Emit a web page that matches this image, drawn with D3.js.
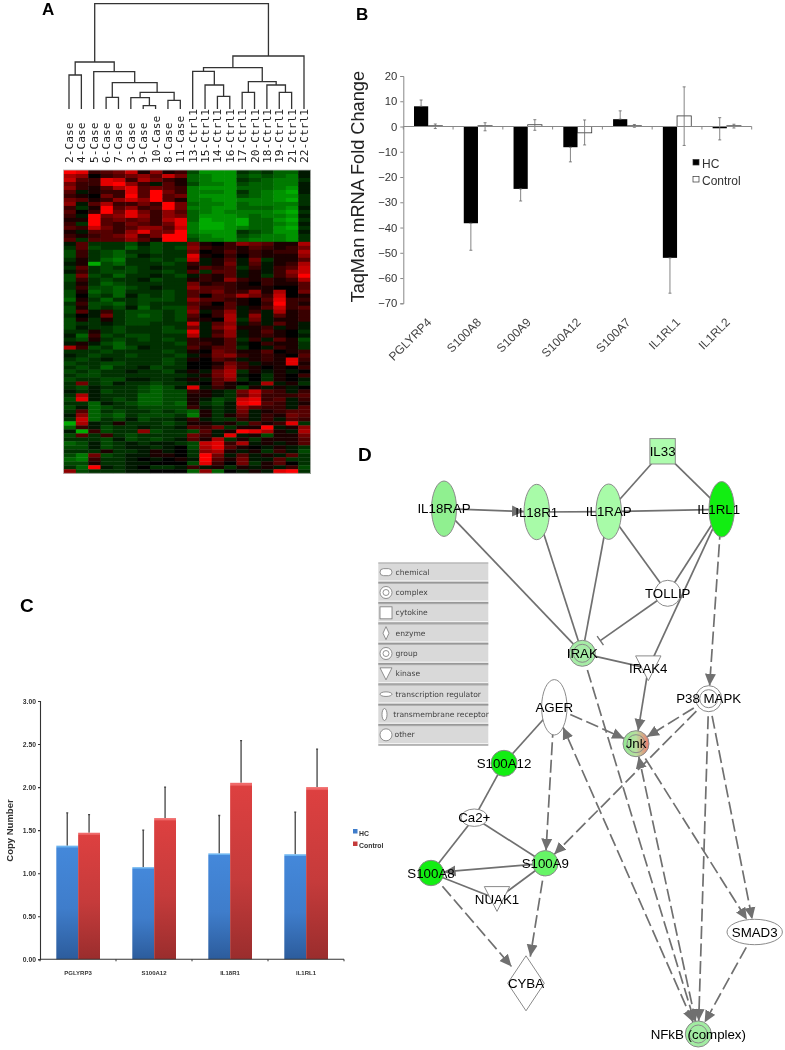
<!DOCTYPE html>
<html><head><meta charset="utf-8">
<script src="https://cdn.jsdelivr.net/npm/d3@7"></script>
<style>
html,body{margin:0;padding:0;background:#fff}
svg{display:block;filter:blur(.35px)}
text{font-family:"Liberation Sans",Arial,sans-serif}
</style></head><body>
<svg id="c" width="785" height="1050"></svg>
<script>
// ---------- Panel A data ----------
const sampleLabels = ["2-Case","4-Case","5-Case","6-Case","7-Case","3-Case","9-Case","10-Case","8-Case","11-Case",
 "13-Ctrl1","15-Ctrl1","14-Ctrl1","16-Ctrl1","17-Ctrl1","20-Ctrl1","18-Ctrl1","19-Ctrl1","21-Ctrl1","22-Ctrl1"];
// nested merges: [height, childA, childB]; leaves are sample indexes
const dendrogramMerges =
 [105.3,
  [47,[34,0,1],[37.3,2,[26.3,[11.7,3,4],[16.7,[11.3,5,[3.3,6,7]],[8.7,8,9]]]]],
  [53,[41.3,[37.7,10,[24,11,[12.7,12,13]]],[27.3,[16.7,14,15],[24,16,[16.7,17,18]]]],19]];
// heat cells: 0 black, 1-9 red strength, a-i green strength
const heatRows = [
"9823471512cfffbcbdda","6502345374deffcdcdea","7328726421deffbcdeeb","4228952a31ceefcddeea","5213683432efffdddefa",
"3a12283942eeefbdefga","2104293934efffcdeffb","4312575931eeffeeefgb","5a36224294deefdeeeeb","2b19352394eeffdddefa",
"3029484253defeeeefgb","2a94585254dfffedeefa","1193434268dgffgddfgb","2b93243248eggfgddefa","3274235537eggfeddfgb",
"1a33258449efffbcdffa","2123462499deffcdeefb","3b33353199ceefdeeefb",
"a3bbbcacbb4102543116","b3cbbdbcbc5212132124","c2bcdbbcbb4013121226","c2bcdcabbb8102021115","b1bdebbcbc7a13a4b113",
"a1gcdbbbcb2a14a3a126","b3bcbcbabb1323b2a237","a2bcccbbcb3b33a1a257","c4cbdbbabca213a1b249","c2bcbbacbb1215212126",
"b1bdcbbbbb4122102113","b2ccdcbabb5332111003","c1dcdbbbcb3342251604","c0cbdacbcb3033642701","d1bdbbcccb5332103822",
"b2ccdbcbbb3203102921","c1cbcadbcc4113a13723","c3a2bcccbc5a25a2a612","b0a4bcdcbc3026a5a312","c1b1bcccbc2106b4a112",
"cbbabccbbb7a35a2a31a","cabbcbbbcb4a46112a1a","bb1bcbbbcc8a25a1310b","ad2cbccbbb6a35a1210a","bc1bcbcbcb2113b2a31c",
"a1acdbbbbc2213a0211b","62cbdcabbb3133b0a21b","bbbcbbbbcb1043113012","abcbbcbbbca145212103","bcbabbbbcb1032a12182",
"cbbccbbbcb00142a1181","bcbdbbacbb0025210102","cbcbbabbca1a46b1a1a0","bccbbbbbbba146a0b102","cbbccaabba1a35b0b10a",
"b4bcabbcbba0310a6a1b","bcabbbcdca8a21c1a1a0","abacbbcdcc21ab4732a2","b6abbbddcc11ab362223","c8abcbddcc1acb7823a2",
"bbdabcddcd1bca8932a1","cadcbbcccc2aba5322a3","b3dbcbbcbcd1ba4a1233","a5dcdbcccbe1b13a2143","b7dbcacbba2abb2a2a32",
"g6ab1bbbcb11a1b3128b","d2acbbabba324b119a15","ag2cbb5cbbc3a19861a6","c3b2bcbbbb42a8a1c114","bbbcacbcba316b1b1113",
"dcacbabaabc7826a1a13","ccacbaaba0c68310a1ab","bbb1bba1a0b561a1b2ac","ce4cbaa110b94a3a1a3b","de2bba0a01a9314aa3bb",
"cc1bbaa000c8204b130b","bd9aba0bba2a1b1a1a2c","5cbbbaa000d5d0a1a89b"];

// ---------- Panel B data ----------
const taqGenes = ["PGLYRP4","S100A8","S100A9","S100A12","S100A7","IL1RL1","IL1RL2"];
const taqHC = [8,-38.3,-24.7,-8.2,2.9,-52,-0.7];
const taqControl = [0.3,0.3,0.7,-2.5,0.3,4.2,0.3];
const taqHCLow = [8,-49,-29.5,-14,2.9,-66,-5.3];
const taqHCHigh = [10.5,-38.3,-24.7,-8.2,6.2,-52,3.5];
const taqCtlLow = [-0.8,-1.7,-1.5,-7.3,-0.3,-7.5,-0.6];
const taqCtlHigh = [1,1.5,2.7,2.6,0.8,15.7,0.9];
const taqTicks = [20,10,0,-10,-20,-30,-40,-50,-60,-70];

// ---------- Panel C data ----------
const copyGenes = ["PGLYRP3","S100A12","IL18R1","IL1RL1"];
const copyHC = [1.32,1.07,1.23,1.22];
const copyControl = [1.47,1.64,2.05,2.00];
const copyHCTop = [1.70,1.50,1.67,1.71];
const copyControlTop = [1.68,2.00,2.54,2.44];
const copyTicks = [0,0.5,1,1.5,2,2.5,3];

// ---------- Panel D data ----------
const legendKinds = ["chemical","complex","cytokine","enzyme","group","kinase","transcription regulator","transmembrane receptor","other"];
const nodeNames = ["IL33","IL18RAP","IL18R1","IL1RAP","IL1RL1","TOLLIP","IRAK","IRAK4","P38 MAPK","AGER","Jnk","S100A12","Ca2+","S100A9","S100A8","NUAK1","CYBA","SMAD3","NFkB (complex)"];
const solidEdges = [["IL33","IL1RAP"],["IL33","IL1RL1"],["IL18R1","IL1RAP"],["IL1RAP","IL1RL1"],["IL18RAP","IRAK"],["IL18R1","IRAK"],["IL1RAP","IRAK"],
 ["IL1RAP","TOLLIP"],["IL1RL1","TOLLIP"],["IL1RL1","IRAK4"],["AGER","S100A12"],["S100A12","Ca2+"],["Ca2+","S100A8"],["Ca2+","S100A9"],["S100A8","NUAK1"],["S100A9","NUAK1"],["IRAK","IRAK4"]];
const solidArrows = [["IL18RAP","IL18R1"],["IRAK4","Jnk"],["S100A9","S100A8"]];
const inhibitEdges = [["TOLLIP","IRAK"]];
const dashedArrows = [["IL1RL1","P38 MAPK"],["P38 MAPK","Jnk"],["P38 MAPK","S100A9"],["P38 MAPK","NFkB (complex)"],["P38 MAPK","SMAD3"],
 ["AGER","Jnk"],["AGER","S100A9"],["IRAK","NFkB (complex)"],["Jnk","SMAD3"],["S100A9","CYBA"],["S100A8","CYBA"],["SMAD3","NFkB (complex)"]];
const dashedBoth = [["NFkB (complex)","AGER"],["NFkB (complex)","Jnk"]];

// ---------- layout (separate from the data) ----------
const svg = d3.select("#c");
const defs = svg.append("defs");
const panelLetters = [["A",42,15,17],["B",356,20,17],["C",20,612,19],["D",358,461,19]];
svg.selectAll("text.letter").data(panelLetters).join("text").attr("class","letter")
 .attr("x",d=>d[1]).attr("y",d=>d[2]).attr("font-size",d=>d[3]).attr("font-weight","bold").text(d=>d[0]);

// ===== Panel A =====
{
 const A = svg.append("g");
 const leafX = d3.scalePoint().domain(d3.range(20)).range([69,304]);
 const hY = d3.scaleLinear().domain([0,105.3]).range([109,3.7]);
 const cellX = d3.scaleBand().domain(d3.range(20)).range([63.5,310.5]);
 const cellY = d3.scaleBand().domain(d3.range(heatRows.length)).range([170,473.3]);
 const heat = d3.scaleLinear().domain([-9,0,9]).range(["#00dc00","#000000","#ff0000"]);
 const decode = ch => /\d/.test(ch) ? +ch : -(ch.charCodeAt(0)-96);
 // dendrogram
 const segs=[];
 (function walk(n){
   if(typeof n==="number") return {x:leafX(n),y:hY(0)};
   const a=walk(n[1]), b=walk(n[2]), y=hY(n[0]);
   segs.push(`M${a.x},${a.y}V${y}H${b.x}V${b.y}`);
   return {x:(a.x+b.x)/2,y};
 })(dendrogramMerges);
 A.append("g").selectAll("path").data(segs).join("path").attr("d",d=>d).attr("fill","none").attr("stroke","#333").attr("stroke-width",1.3);
 // labels
 A.append("g").selectAll("text").data(sampleLabels).join("text")
  .attr("transform",(d,i)=>`translate(${leafX(i)+4},163) rotate(-90)`)
  .attr("font-family","'DejaVu Sans Mono',monospace").style("font-family","'DejaVu Sans Mono',monospace")
  .attr("font-size",11.2).attr("fill","#222").text(d=>d);
 // heatmap
 const cells = heatRows.flatMap((r,ri)=>Array.from(r,(ch,ci)=>({ri,ci,v:decode(ch)})));
 A.append("g").selectAll("rect").data(cells).join("rect")
  .attr("x",d=>cellX(d.ci)).attr("y",d=>cellY(d.ri)).attr("width",cellX.bandwidth()+.4).attr("height",cellY.bandwidth()+.4)
  .attr("fill",d=>heat(d.v));
 A.append("rect").attr("x",63.5).attr("y",170).attr("width",247).attr("height",303.3).attr("fill","none").attr("stroke","#bbb").attr("stroke-width",.8);
}

// ===== Panel B =====
{
 const B = svg.append("g");
 const y = d3.scaleLinear().domain([-70,20]).range([303.3,76]);
 const x0 = d3.scaleBand().domain(taqGenes).range([403.3,751.7]);
 const x1 = d3.scaleBand().domain([0,1]).range([10.7,39.1]);
 const rows = taqGenes.map((g,i)=>({g,hc:taqHC[i],ct:taqControl[i],hl:taqHCLow[i],hh:taqHCHigh[i],cl:taqCtlLow[i],ch:taqCtlHigh[i]}));
 const barY=v=>Math.min(y(v),y(0)), barH=v=>Math.max(.8,Math.abs(y(v)-y(0)));
 const gr = B.selectAll("g.grp").data(rows).join("g").attr("transform",d=>`translate(${x0(d.g)},0)`);
 gr.append("rect").attr("x",x1(0)).attr("y",d=>barY(d.hc)).attr("width",x1.bandwidth()).attr("height",d=>barH(d.hc)).attr("fill","#000");
 gr.append("rect").attr("x",x1(1)).attr("y",d=>barY(d.ct)).attr("width",x1.bandwidth()).attr("height",d=>barH(d.ct)).attr("fill","#fff").attr("stroke","#333").attr("stroke-width",.8);
 const whisker=(sel,cx,lo,hi)=>{
  sel.append("path").attr("d",d=>`M${cx},${y(lo(d))}V${y(hi(d))}M${cx-1.5},${y(lo(d))}h3M${cx-1.5},${y(hi(d))}h3`).attr("stroke","#666").attr("stroke-width",.8).attr("fill","none");
 };
 whisker(gr,x1(0)+x1.bandwidth()/2,d=>d.hl,d=>d.hh);
 whisker(gr,x1(1)+x1.bandwidth()/2,d=>d.cl,d=>d.ch);
 // axes
 const ax = B.append("g").attr("transform","translate(403.3,0)").call(d3.axisLeft(y).tickValues(taqTicks).tickSize(3).tickPadding(3));
 ax.selectAll("path,line").attr("stroke","#888");
 ax.selectAll("text").attr("font-size",11.3).attr("fill","#333").style("font-family",'"Liberation Sans",Arial,sans-serif');
 const bounds=d3.range(8).map(i=>x0.range()[0]+i*x0.step());
 B.append("line").attr("x1",403.3).attr("x2",751.7).attr("y1",y(0)).attr("y2",y(0)).attr("stroke","#888").attr("stroke-width",1);
 B.selectAll("line.t").data(bounds).join("line").attr("class","t").attr("x1",d=>d).attr("x2",d=>d).attr("y1",y(0)).attr("y2",y(0)+3).attr("stroke","#888");
 B.selectAll("text.gene").data(taqGenes).join("text").attr("class","gene")
  .attr("transform",d=>`translate(${x0(d)+x0.bandwidth()/2+4},323) rotate(-45)`)
  .attr("text-anchor","end").attr("font-size",12).attr("fill","#444").text(d=>d);
 B.append("text").attr("transform","translate(363.5,186.7) rotate(-90)").attr("text-anchor","middle").attr("font-size",18.2).attr("fill","#222").text("TaqMan mRNA Fold Change");
 const lg=[["HC","#000",159.5,168],["Control","#fff",176.5,185]];
 B.selectAll("rect.lg").data(lg).join("rect").attr("class","lg").attr("x",693).attr("y",d=>d[2]).attr("width",6).attr("height",5.5).attr("fill",d=>d[1]).attr("stroke","#333").attr("stroke-width",.7);
 B.selectAll("text.lg").data(lg).join("text").attr("class","lg").attr("x",702).attr("y",d=>d[3]).attr("font-size",12).attr("fill","#333").text(d=>d[0]);
}

// ===== Panel C =====
{
 const C = svg.append("g");
 const y = d3.scaleLinear().domain([0,3]).range([959.3,701]);
 const x0 = d3.scaleBand().domain(copyGenes).range([40,344]);
 const x1 = d3.scaleBand().domain([0,1]).range([16.3,60]);
 const mk=(id,stops)=>{const g=defs.append("linearGradient").attr("id",id).attr("x1",0).attr("x2",0).attr("y1",0).attr("y2",1);
  stops.forEach(s=>g.append("stop").attr("offset",s[0]).attr("stop-color",s[1]));};
 mk("blue",[[0,"#6cb4f0"],[.012,"#6cb4f0"],[.02,"#4488da"],[.55,"#3f7dcb"],[1,"#2c5c9c"]]);
 mk("red",[[0,"#f06a6a"],[.012,"#f06a6a"],[.02,"#dd4040"],[.55,"#c53b3b"],[1,"#9a2d2d"]]);
 const rows=copyGenes.map((g,i)=>({g,vals:[copyHC[i],copyControl[i]],tops:[copyHCTop[i],copyControlTop[i]]}));
 const gr=C.selectAll("g.grp").data(rows).join("g").attr("transform",d=>`translate(${x0(d.g)},0)`);
 [0,1].forEach(s=>{
  gr.append("path").attr("d",d=>{const c=x1(s)+x1.bandwidth()/2;return `M${c},${y(d.vals[s])}V${y(d.tops[s])}M${c-1},${y(d.tops[s])}h2`;}).attr("stroke","#444").attr("stroke-width",1.3).attr("fill","none");
  gr.append("rect").attr("x",x1(s)).attr("y",d=>y(d.vals[s])).attr("width",x1.bandwidth()).attr("height",d=>y(0)-y(d.vals[s])).attr("fill",s?"url(#red)":"url(#blue)");
 });
 const ax=C.append("g").attr("transform","translate(40,0)").call(d3.axisLeft(y).tickValues(copyTicks).tickFormat(d3.format(".2f")).tickSize(2).tickPadding(2));
 ax.selectAll("path,line").attr("stroke","#333").attr("stroke-width",1.1);
 ax.selectAll("text").attr("font-size",6.8).attr("font-weight","bold").attr("fill","#333").style("font-family",'"Liberation Sans",Arial,sans-serif');
 C.append("line").attr("x1",40).attr("x2",344).attr("y1",y(0)).attr("y2",y(0)).attr("stroke","#333").attr("stroke-width",1.1);
 C.selectAll("line.t").data(d3.range(5).map(i=>40+i*x0.step())).join("line").attr("class","t").attr("x1",d=>d).attr("x2",d=>d).attr("y1",y(0)).attr("y2",y(0)+2).attr("stroke","#333");
 C.selectAll("text.gene").data(copyGenes).join("text").attr("class","gene").attr("x",d=>x0(d)+x0.bandwidth()/2).attr("y",974.5).attr("text-anchor","middle").attr("font-size",6).attr("font-weight","bold").attr("fill","#333").text(d=>d);
 C.append("text").attr("transform","translate(13,830.5) rotate(-90)").attr("text-anchor","middle").attr("font-size",9.5).attr("font-weight","bold").attr("fill","#333").text("Copy Number");
 const lg=[["HC","#3f7dcb",829,835.5],["Control","#c53b3b",841.5,847.5]];
 C.selectAll("rect.lg").data(lg).join("rect").attr("class","lg").attr("x",353).attr("y",d=>d[2]).attr("width",4.5).attr("height",4.5).attr("fill",d=>d[1]);
 C.selectAll("text.lg").data(lg).join("text").attr("class","lg").attr("x",359).attr("y",d=>d[3]).attr("font-size",6.9).attr("font-weight","bold").attr("fill","#333").text(d=>d[0]);
}

// ===== Panel D =====
{
 const D = svg.append("g");
 const nx = d3.scaleLinear().domain([0,415]).range([370,785]);
 const ny = d3.scaleLinear().domain([0,620]).range([430,1050]);
 // node layout: shape, graph x, graph y, half-width, half-height, fill
 const layout = {
  "IL33":["square",292.6,21.3,12.7,12.7,"#aefcae"],
  "IL18RAP":["ellipse",74,78.7,12.5,27.7,"#90f090"],
  "IL18R1":["ellipse",166.7,82,12.7,27.7,"#a8fba8"],
  "IL1RAP":["ellipse",238.7,81.7,12.7,27.7,"#a8fba8"],
  "IL1RL1":["ellipse",351.7,79.3,12.7,27.7,"#12ee12"],
  "TOLLIP":["ellipse",297.7,163.3,13,13,"#fff"],
  "IRAK":["ring",212.3,223.3,13,13,"#a6eca6"],
  "IRAK4":["tri",278.3,238.3,12.7,12.4,"#fff"],
  "P38 MAPK":["ring",338.7,268.7,13,13,"#fff"],
  "AGER":["ellipse",184.3,277.3,12.7,27.7,"#fff"],
  "Jnk":["ring",266,313.7,13,13,"url(#jnk)"],
  "S100A12":["ellipse",134,333.3,13,13,"#12ee12"],
  "Ca2+":["ellipse",104.3,387.7,13.3,8.7,"#fff"],
  "S100A9":["ellipse",175.3,433.3,12.7,12.7,"#66f566"],
  "S100A8":["ellipse",61,443,12.7,12.7,"#12ee12"],
  "NUAK1":["tri",127,469,12.7,12.4,"#fff"],
  "CYBA":["diamond",156,553.3,18.3,27.5,"#fff"],
  "SMAD3":["ellipse",384.7,502,27.7,12.7,"#fff"],
  "NFkB (complex)":["ring",328.3,604,13,13,"#a2eca2"]
 };
 const grad=defs.append("linearGradient").attr("id","jnk");
 [[0,"#8fe88f"],[.5,"#b8e0a0"],[1,"#f07a70"]].forEach(s=>grad.append("stop").attr("offset",s[0]).attr("stop-color",s[1]));
 defs.append("marker").attr("id","arrow").attr("viewBox","0 -6 12 12").attr("refX",12).attr("refY",0)
   .attr("markerUnits","userSpaceOnUse").attr("markerWidth",12).attr("markerHeight",12).attr("orient","auto-start-reverse")
   .append("path").attr("d","M0,-5.5L12,0L0,5.5Z").attr("fill","#707070");
 defs.append("marker").attr("id","tbar").attr("viewBox","0 -7 4 14").attr("refX",1).attr("refY",0).attr("markerUnits","userSpaceOnUse").attr("markerWidth",4).attr("markerHeight",14).attr("orient","auto")
   .append("path").attr("d","M1,-5.5V5.5").attr("stroke","#707070").attr("stroke-width",1.4);
 const edgeGap=(a,b)=>{ // distance factor from centre of b to its border, along a->b
  const A=layout[a],B=layout[b],dx=nx(B[1])-nx(A[1]),dy=ny(B[2])-ny(A[2]);
  return {dx,dy,k:1/Math.sqrt((dx/B[3])**2+(dy/B[4])**2)};
 };
 const ends=(a,b,both,stopShort=0)=>{
  const A=layout[a],B=layout[b],g=edgeGap(a,b),h=edgeGap(b,a);
  const len=Math.hypot(g.dx,g.dy),back=g.k+stopShort/len;
  return both?[nx(A[1])+g.dx*h.k,ny(A[2])+g.dy*h.k,nx(B[1])-g.dx*back,ny(B[2])-g.dy*back]
             :[nx(A[1]),ny(A[2]),nx(B[1])-g.dx*back,ny(B[2])-g.dy*back];
 };
 const E=D.append("g").attr("stroke","#707070").attr("stroke-width",1.7).attr("fill","none");
 E.selectAll("line.s").data(solidEdges).join("line").attr("class","s")
  .attr("x1",d=>nx(layout[d[0]][1])).attr("y1",d=>ny(layout[d[0]][2])).attr("x2",d=>nx(layout[d[1]][1])).attr("y2",d=>ny(layout[d[1]][2]));
 const draw=(cls,data,dash,marker,both,stopShort)=>E.selectAll("line."+cls).data(data).join("line").attr("class",cls)
  .each(function(d){const e=ends(d[0],d[1],both,stopShort);d3.select(this).attr("x1",e[0]).attr("y1",e[1]).attr("x2",e[2]).attr("y2",e[3]);})
  .attr("stroke-dasharray",dash).attr("marker-end",marker).attr("marker-start",both?marker:null);
 draw("sa",solidArrows,null,"url(#arrow)");
 draw("da",dashedArrows,"13,4.5","url(#arrow)");
 draw("db",dashedBoth,"13,4.5","url(#arrow)",true);
 draw("in",inhibitEdges,null,"url(#tbar)",false,9);
 // nodes
 const N=D.append("g").selectAll("g").data(nodeNames).join("g").attr("transform",d=>`translate(${nx(layout[d][1])},${ny(layout[d][2])})`);
 N.each(function(n){
  const [sh,,,w,h,fill]=layout[n]; const g=d3.select(this);
  const st=s=>s.attr("fill",fill).attr("stroke","#8a8a8a").attr("stroke-width",1);
  if(sh==="square") st(g.append("rect").attr("x",-w).attr("y",-h).attr("width",2*w).attr("height",2*h));
  else if(sh==="tri") st(g.append("path").attr("d",`M${-w},${-h}H${w}L0,${h}Z`));
  else if(sh==="diamond") st(g.append("path").attr("d",`M0,${-h}L${w},0L0,${h}L${-w},0Z`));
  else st(g.append("ellipse").attr("rx",w).attr("ry",h));
  if(sh==="ring") g.append("circle").attr("r",9).attr("fill","none").attr("stroke","#8a8a8a").attr("stroke-width",1);
  g.append("text").attr("text-anchor","middle").attr("dy",".36em").attr("font-size",13.3).attr("fill","#000").attr("x",n==="IL1RL1"?-3:0).text(n);
 });
 // type legend
 const L=D.append("g");
 const row=d3.scaleBand().domain(legendKinds).range([562.5,745.5]);
 L.append("rect").attr("x",378.3).attr("y",562.5).attr("width",110).attr("height",183).attr("fill","#d9d9d9");
 L.selectAll("line.top").data(legendKinds).join("line").attr("class","top").attr("x1",378.3).attr("x2",488.3).attr("y1",d=>row(d)+.5).attr("y2",d=>row(d)+.5).attr("stroke","#a8a8a8");
 L.selectAll("line.gap").data(legendKinds).join("line").attr("class","gap").attr("x1",378.3).attr("x2",488.3).attr("y1",d=>row(d)+row.bandwidth()-2).attr("y2",d=>row(d)+row.bandwidth()-2).attr("stroke","#f2f2f2").attr("stroke-width",1);
 L.selectAll("line.bot").data(legendKinds).join("line").attr("class","bot").attr("x1",378.3).attr("x2",488.3).attr("y1",d=>row(d)+row.bandwidth()-.5).attr("y2",d=>row(d)+row.bandwidth()-.5).attr("stroke","#8c8c8c");
 L.selectAll("text").data(legendKinds).join("text").attr("x",d=>d==="transmembrane receptor"?393.3:d==="other"?394.5:395.5).attr("y",d=>row(d)+row.bandwidth()/2+2)
  .style("font-family","'DejaVu Sans',sans-serif").attr("font-size",7.6).attr("fill","#444").text(d=>d);
 const ic=L.selectAll("g.ic").data(legendKinds).join("g").attr("class","ic").attr("transform",d=>`translate(${d==="transmembrane receptor"?384.5:386},${row(d)+row.bandwidth()/2-.5})`);
 ic.each(function(k){
  const g=d3.select(this);const s=e=>e.attr("fill","#fff").attr("stroke","#777").attr("stroke-width",.8);
  if(k==="chemical") s(g.append("rect").attr("x",-6).attr("y",-3.5).attr("width",12).attr("height",7).attr("rx",3.5));
  if(k==="complex"||k==="group"){s(g.append("circle").attr("r",6));s(g.append("circle").attr("r",3));}
  if(k==="cytokine") s(g.append("rect").attr("x",-6).attr("y",-6).attr("width",12).attr("height",12));
  if(k==="enzyme") s(g.append("path").attr("d","M0,-6.5L3,0L0,6.5L-3,0Z"));
  if(k==="kinase") s(g.append("path").attr("d","M-6,-6H6L0,6Z"));
  if(k==="transcription regulator") s(g.append("ellipse").attr("rx",6).attr("ry",2.3));
  if(k==="transmembrane receptor") s(g.append("ellipse").attr("rx",2.5).attr("ry",6));
  if(k==="other") s(g.append("circle").attr("r",6));
 });
}
</script>
</body></html>
